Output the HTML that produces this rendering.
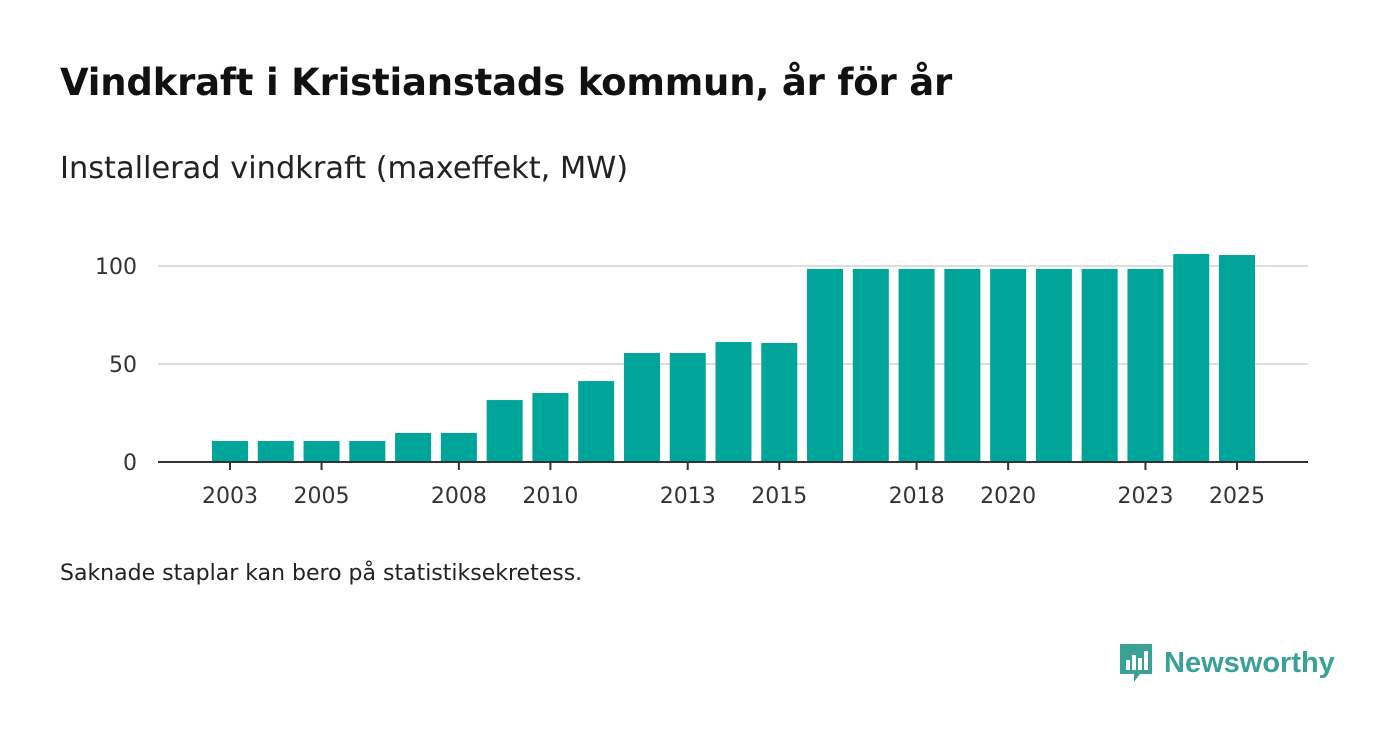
<!DOCTYPE html>
<html><head><meta charset="utf-8"><style>
body{margin:0;width:1400px;height:745px;background:#fff;font-family:"DejaVu Sans",sans-serif;color:#111;position:relative;overflow:hidden}
h1{position:absolute;left:60px;top:61px;margin:0;font-size:37px;font-weight:bold;letter-spacing:-0.2px;white-space:nowrap}
.sub{position:absolute;left:60px;top:151px;font-size:30.4px;color:#222;white-space:nowrap}
.note{position:absolute;left:60px;top:561px;font-size:22px;color:#222;white-space:nowrap}
.logo{position:absolute;left:1118px;top:642px;display:flex;align-items:center;gap:10px;color:#3aa197;font-size:29px;font-weight:bold;font-family:"Liberation Sans",sans-serif}
</style></head><body>
<h1>Vindkraft i Kristianstads kommun, år för år</h1>
<div class="sub">Installerad vindkraft (maxeffekt, MW)</div>
<svg id="chart" width="1400" height="745" style="position:absolute;left:0;top:0"></svg>
<div class="note">Saknade staplar kan bero på statistiksekretess.</div>
<div class="logo">
<svg width="36" height="42" viewBox="0 0 36 42"><path d="M2 2h32v30H22l-6 8v-8H2z" fill="#3aa197"/><rect x="8" y="18" width="4" height="10" fill="#fff"/><rect x="14" y="13" width="4" height="15" fill="#fff"/><rect x="20" y="16" width="4" height="12" fill="#fff"/><rect x="26" y="9" width="4" height="19" fill="#fff"/></svg>
<span>Newsworthy</span></div>
<script>
const years=[2003,2004,2005,2006,2007,2008,2009,2010,2011,2012,2013,2014,2015,2016,2017,2018,2019,2020,2021,2022,2023,2024,2025];
const values=[10.7,10.7,10.7,10.7,14.8,14.8,31.6,35.2,41.3,55.6,55.6,61.2,60.7,98.5,98.5,98.5,98.5,98.5,98.5,98.5,98.5,106.1,105.6];
const yTicks=[0,50,100];
const xTickLabels=[2003,2005,2008,2010,2013,2015,2018,2020,2023,2025];
const svg=document.getElementById('chart');const NS='http://www.w3.org/2000/svg';
const x=yr=>230+(yr-2003)*(1007/22);
const y=v=>462-v*1.96;
function mk(t,a){const e=document.createElementNS(NS,t);for(const k in a)e.setAttribute(k,a[k]);svg.appendChild(e);return e;}
yTicks.forEach(v=>{
 if(v>0){const g=mk('line',{x1:158,x2:1308,y1:y(v),y2:y(v),stroke:'#ddd','stroke-width':2});
 
 }
 const t=mk('text',{x:137,y:y(v)+8,'text-anchor':'end','font-size':22,fill:'#333','font-family':'DejaVu Sans, sans-serif'});t.textContent=v;
 
 
});
years.forEach((yr,i)=>{
 const r=mk('rect',{x:x(yr)-18,y:y(values[i]),width:36,height:462-y(values[i]),fill:'#00a59a'});
 
 
});
const ax=mk('line',{x1:158,x2:1308,y1:462,y2:462,stroke:'#333','stroke-width':2});


xTickLabels.forEach(yr=>{
 const l=mk('line',{x1:x(yr),x2:x(yr),y1:462,y2:470,stroke:'#333','stroke-width':2});
 
 
 const t=mk('text',{x:x(yr),y:503,'text-anchor':'middle','font-size':22,fill:'#333','font-family':'DejaVu Sans, sans-serif'});t.textContent=yr;
 
 
});
</script>
</body></html>
